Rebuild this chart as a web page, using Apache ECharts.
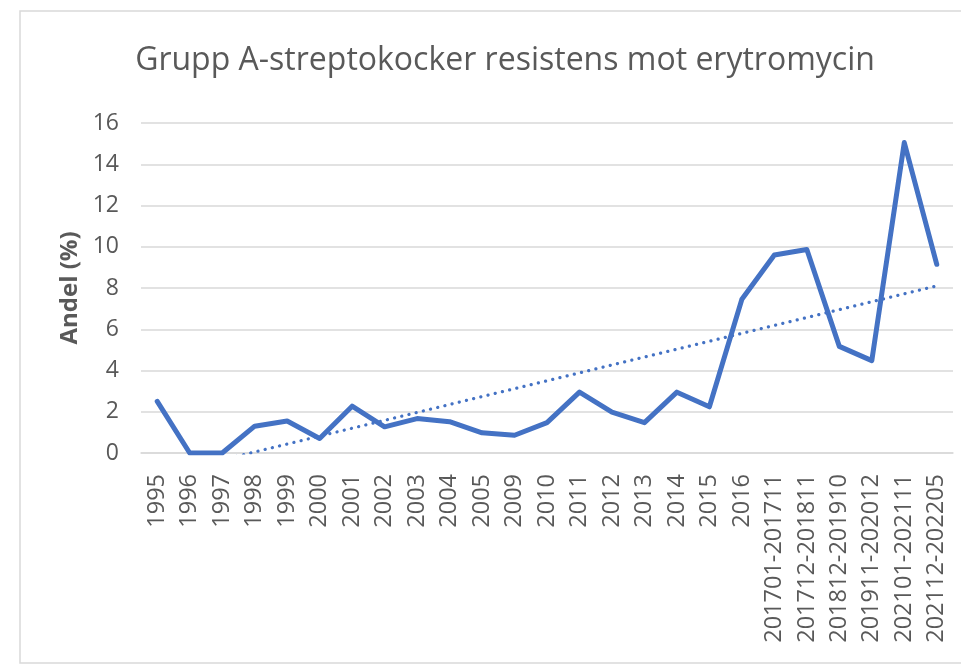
<!DOCTYPE html>
<html>
<head>
<meta charset="utf-8">
<style>
  html, body { margin: 0; padding: 0; background: #fff; }
  #chart { width: 961px; height: 665px; }
</style>
<script src="https://cdn.jsdelivr.net/npm/echarts@6/dist/echarts.min.js"></script>
</head>
<body>
<div id="chart"></div>
<script>
// kategorier (år / perioder)
var categories = ['1995', '1996', '1997', '1998', '1999', '2000', '2001', '2002', '2003', '2004',
  '2005', '2009', '2010', '2011', '2012', '2013', '2014', '2015', '2016',
  '201701-201711', '201712-201811', '201812-201910', '201911-202012',
  '202101-202111', '202112-202205']

// andel resistenta (%)
var andel = [2.5, 0, 0, 1.3, 1.55, 0.7, 2.27, 1.27, 1.67, 1.52,
  0.98, 0.86, 1.47, 2.95, 1.98, 1.47, 2.95, 2.24, 7.45,
  9.6, 9.87, 5.17, 4.48, 15.05, 9.15]

// linjär trend, ändpunkter avlästa i bilden (första och sista kategorin)
var trendStart = -1.1
var trendEnd = 8.1

var yTicks = { min: 0, max: 16, interval: 2 }

var trend = categories.map(function (c, i) {
  if (i === 0) return trendStart
  if (i === categories.length - 1) return trendEnd
  return null
})

var chart = echarts.init(document.getElementById('chart'))
var textColor = '#595959'
var font = '"Open Sans", sans-serif'

chart.setOption({
  animation: false,
  title: {
    text: 'Grupp A-streptokocker resistens mot erytromycin',
    left: 500,
    textAlign: 'center',
    top: 40,
    textStyle: {
      color: textColor,
      fontSize: 32,
      fontWeight: 'normal',
      fontFamily: font
    }
  },
  graphic: [{
    type: 'rect',
    shape: { x: 20, y: 11, width: 960, height: 652 },
    style: { fill: 'none', stroke: '#d9d9d9', lineWidth: 1.5 },
    silent: true
  }],
  grid: {
    left: 141,
    right: 8,
    top: 123,
    bottom: 212
  },
  xAxis: {
    type: 'category',
    data: categories,
    boundaryGap: true,
    axisLine: { lineStyle: { color: '#d9d9d9', width: 1.5 } },
    axisTick: { show: false },
    axisLabel: {
      rotate: 90,
      interval: 0,
      margin: 21,
      color: textColor,
      fontSize: 23.5,
      fontFamily: font
    }
  },
  yAxis: {
    type: 'value',
    min: yTicks.min,
    max: yTicks.max,
    interval: yTicks.interval,
    name: 'Andel (%)',
    nameLocation: 'middle',
    nameGap: 56,
    nameTextStyle: {
      color: textColor,
      fontSize: 24,
      fontWeight: 'bold',
      fontFamily: font
    },
    axisLine: { show: false },
    axisTick: { show: false },
    axisLabel: {
      margin: 22,
      color: textColor,
      fontSize: 23,
      fontFamily: font
    },
    splitLine: { lineStyle: { color: '#d9d9d9', width: 1.5 } }
  },
  series: [
    {
      name: 'Andel',
      type: 'line',
      data: andel,
      symbol: 'none',
      lineStyle: { color: '#4472C4', width: 5, join: 'round', cap: 'round' },
      z: 3
    },
    {
      name: 'Trend',
      type: 'line',
      data: trend,
      connectNulls: true,
      symbol: 'none',
      clip: true,
      lineStyle: { color: '#4472C4', width: 3.2, type: [0.1, 7.3], cap: 'round' },
      z: 2
    }
  ]
})
</script>
</body>
</html>
